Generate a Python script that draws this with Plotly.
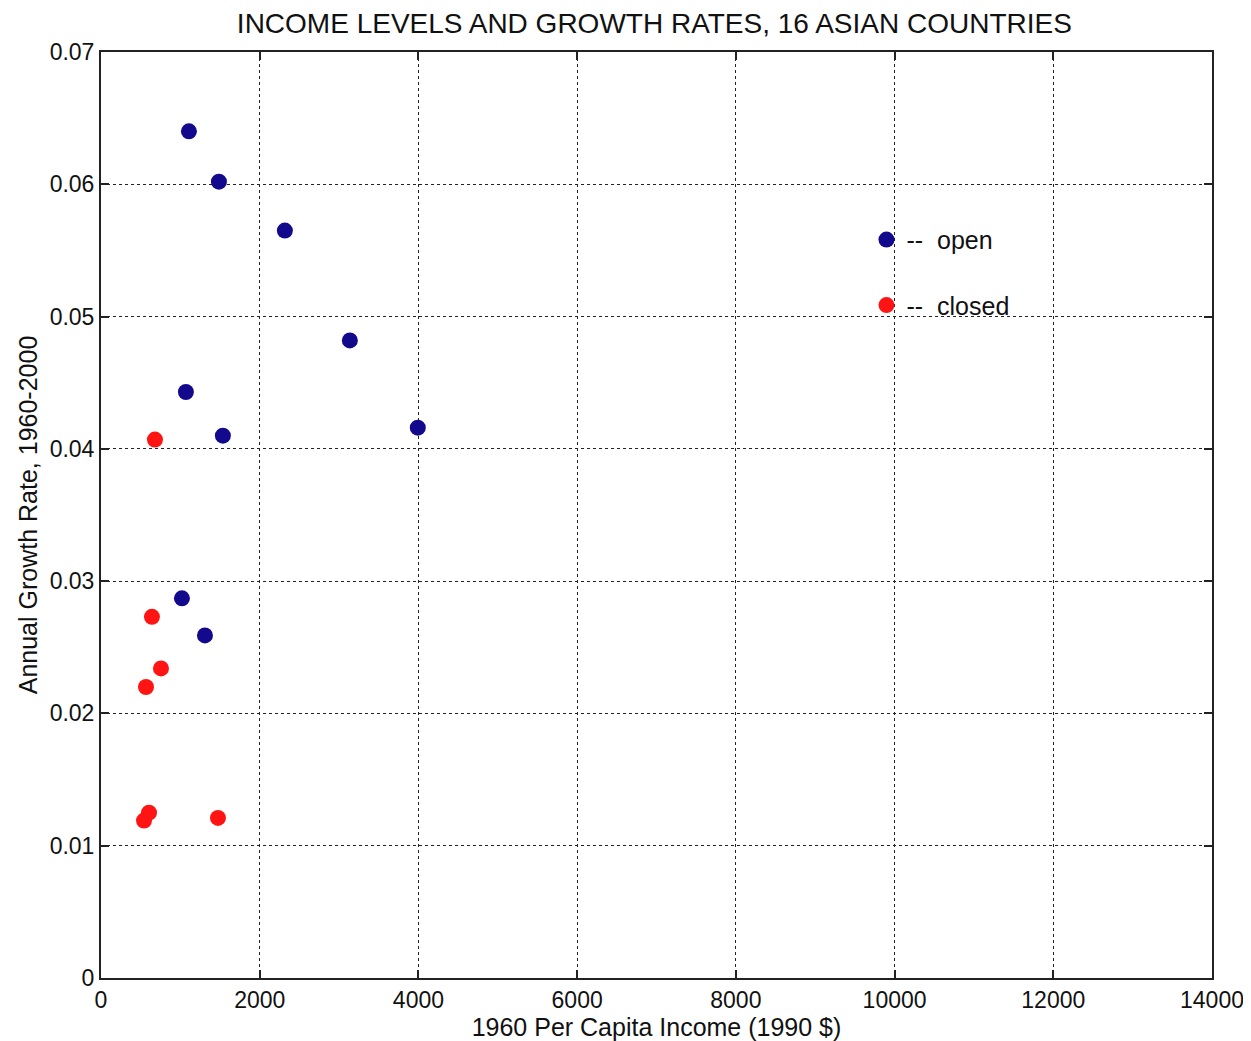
import plotly.graph_objects as go

# Data
open_income = [1108, 1486, 2317, 3136, 1070, 1536, 3992, 1020, 1310]
open_growth = [0.0640, 0.0602, 0.0565, 0.0482, 0.0443, 0.0410, 0.0416, 0.0287, 0.0259]

closed_income = [680, 642, 756, 567, 605, 542, 1474]
closed_growth = [0.0407, 0.0273, 0.0234, 0.0220, 0.0125, 0.0119, 0.0121]

x_ticks = [0, 2000, 4000, 6000, 8000, 10000, 12000, 14000]
x_labels = ["0", "2000", "4000", "6000", "8000", "10000", "12000", "14000"]
y_ticks = [0, 0.01, 0.02, 0.03, 0.04, 0.05, 0.06, 0.07]
y_labels = ["0", "0.01", "0.02", "0.03", "0.04", "0.05", "0.06", "0.07"]

FONT = "Liberation Sans Narrow, Arial Narrow, Liberation Sans, Arial, sans-serif"
OPEN_COLOR = "#13098c"
CLOSED_COLOR = "#ff1414"

fig = go.Figure()
fig.add_trace(go.Scatter(
    x=open_income, y=open_growth, mode="markers", name="--  open",
    legendgroup="open",
    marker=dict(color=OPEN_COLOR, size=16, line=dict(width=0)),
))
fig.add_trace(go.Scatter(
    x=closed_income, y=closed_growth, mode="markers", name="--  closed",
    legendgroup="closed",
    marker=dict(color=CLOSED_COLOR, size=16, line=dict(width=0)),
))

axis_common = dict(
    showline=True, linecolor="#222222", linewidth=2, mirror="ticks",
    ticks="inside", ticklen=8, tickwidth=1.5, tickcolor="#222222",
    showgrid=True, gridcolor="#222222", gridwidth=1.2, griddash="dot",
    zeroline=False,
    tickfont=dict(family=FONT, size=23, color="#111111"),
)

fig.update_layout(
    width=1243, height=1033,
    margin=dict(l=93, r=39, t=44, b=63, autoexpand=False),
    paper_bgcolor="white", plot_bgcolor="white",
    title=dict(
        text="INCOME LEVELS AND GROWTH RATES, 16 ASIAN COUNTRIES",
        x=0.520, xanchor="center", y=0.985, yanchor="middle",
        font=dict(family=FONT, size=28, color="#111111"),
    ),
    xaxis=dict(
        range=[0, 14000], tickvals=x_ticks, ticktext=x_labels,
        title=dict(text="1960 Per Capita Income (1990 $)", standoff=0,
                   font=dict(family=FONT, size=25, color="#111111")),
        **axis_common,
    ),
    yaxis=dict(
        range=[0, 0.07], tickvals=y_ticks, ticktext=y_labels,
        title=dict(text="Annual Growth Rate, 1960-2000", standoff=5,
                   font=dict(family=FONT, size=25, color="#111111")),
        **axis_common,
    ),
    legend=dict(
        x=0.689, y=0.822, xanchor="left", yanchor="top",
        bgcolor="rgba(0,0,0,0)", borderwidth=0,
        font=dict(family=FONT, size=25, color="#111111"),
        tracegroupgap=30,
    ),
    showlegend=True,
)

fig.write_html("out.html")
